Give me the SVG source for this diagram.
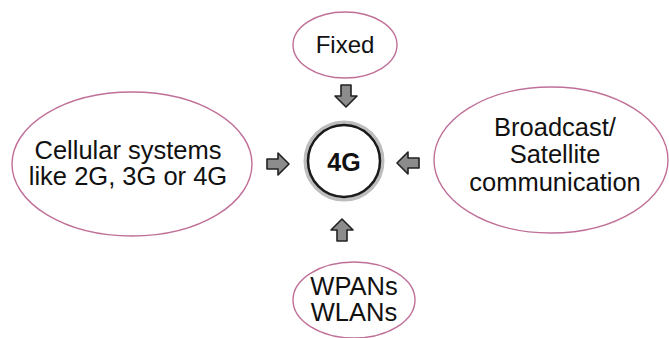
<svg xmlns="http://www.w3.org/2000/svg" xmlns:xlink="http://www.w3.org/1999/xlink" width="669" height="338" viewBox="0 0 669 338">
<style>
.oval{fill:#ffffff;stroke:#c07098;stroke-width:1.4}
.lbl{font-family:"Liberation Sans",Arial,sans-serif;font-size:25.5px;fill:#111;text-anchor:middle}
.hub{font-family:"Liberation Sans",Arial,sans-serif;font-size:25px;font-weight:bold;fill:#111;text-anchor:middle}
.arr{fill:#8c8c8c;stroke:#222;stroke-width:1.6;stroke-linejoin:round}
</style>
<defs>
<path id="arrow" class="arr" d="M-11,-5 L0,-5 L0,-11 L11,0 L0,11 L0,5 L-11,5 Z"/>
</defs>
<rect width="669" height="338" fill="#ffffff"/>
<g id="fixed">
<ellipse class="oval" cx="345" cy="45" rx="52" ry="33"/>
<text class="lbl" x="345" y="53" style="font-size:24px">Fixed</text>
</g>
<g id="cellular">
<ellipse class="oval" cx="132" cy="164" rx="120" ry="72"/>
<text class="lbl" x="128" y="159">Cellular systems</text>
<text class="lbl" x="128" y="185">like 2G, 3G or 4G</text>
</g>
<g id="broadcast">
<ellipse class="oval" cx="551" cy="160" rx="117" ry="73"/>
<text class="lbl" x="555" y="136">Broadcast/</text>
<text class="lbl" x="555" y="163">Satellite</text>
<text class="lbl" x="555" y="191">communication</text>
</g>
<g id="wpans">
<ellipse class="oval" cx="354" cy="300" rx="61" ry="38"/>
<text class="lbl" x="354" y="295">WPANs</text>
<text class="lbl" x="354" y="321">WLANs</text>
</g>
<g id="hub4g">
<circle cx="344" cy="161" r="38" fill="#ffffff" stroke="#bdbdbd" stroke-width="5"/>
<circle cx="344" cy="161" r="36" fill="#ffffff" stroke="#1a1a1a" stroke-width="2.5"/>
<text class="hub" x="344" y="171">4G</text>
</g>
<g id="connectors">
<use xlink:href="#arrow" transform="translate(346,96) rotate(90)"/>
<use xlink:href="#arrow" transform="translate(278,164)"/>
<use xlink:href="#arrow" transform="translate(408,163) rotate(180)"/>
<use xlink:href="#arrow" transform="translate(342,230) rotate(-90)"/>
</g>
</svg>
